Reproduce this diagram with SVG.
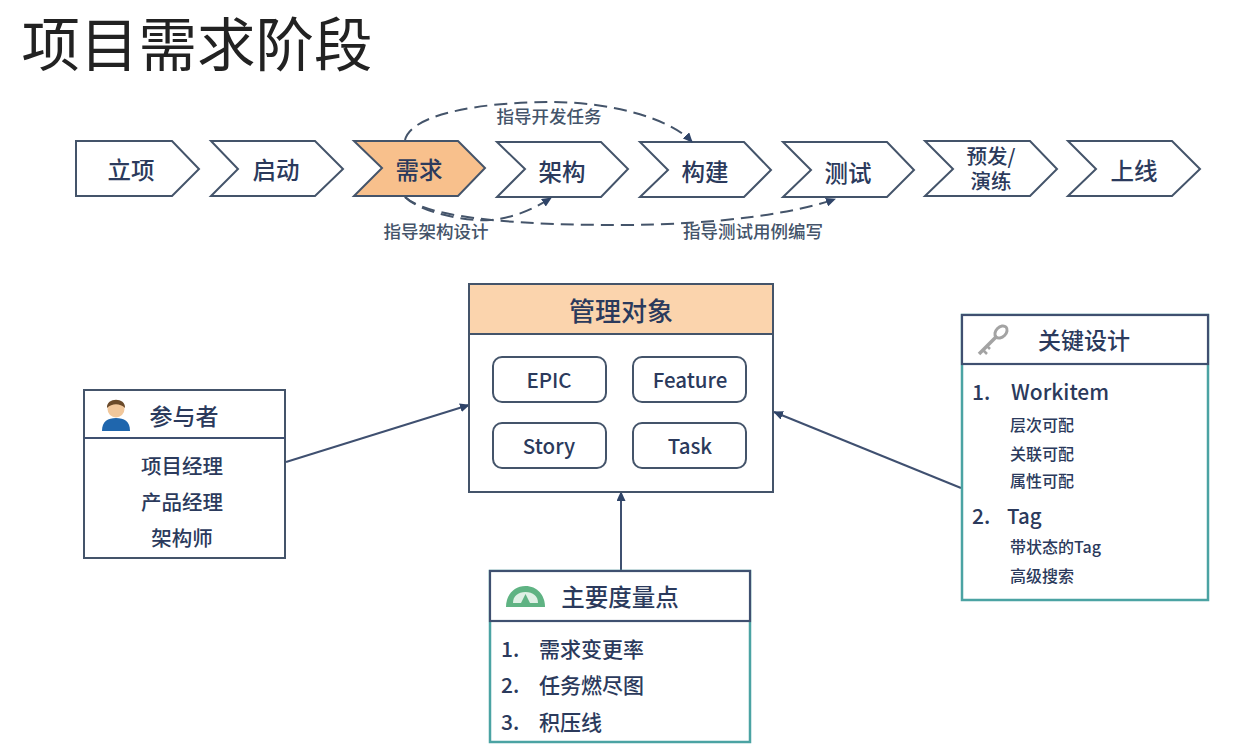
<svg xmlns="http://www.w3.org/2000/svg" width="1233" height="754" viewBox="0 0 1233 754">
<style>
text{font-family:"Noto Sans CJK SC","Noto Sans",sans-serif;fill:#2b3a5c;text-anchor:middle;font-weight:500}
.l{text-anchor:start}
.chev{fill:#fff;stroke:#44546a;stroke-width:2}
.box{fill:#fff;stroke:#44546a;stroke-width:2}
.teal{fill:#fff;stroke:#4ba3a3;stroke-width:2.5}
.head{fill:#fff;stroke:#3f5070;stroke-width:2.2}
.pill{fill:#fff;stroke:#44546a;stroke-width:2}
.c{fill:none;stroke:#3f5070;stroke-width:2}
.d{fill:none;stroke:#44546a;stroke-width:2;stroke-dasharray:13 7}
.t{font-size:23.5px}.s{font-size:20.5px}.b{font-size:21px}.xs{font-size:16px}.cap{font-size:17.5px;fill:#44546a}
</style>
<defs>
<marker id="a" markerWidth="10" markerHeight="9" refX="9" refY="4.5" orient="auto" markerUnits="userSpaceOnUse"><path d="M0 0L10 4.5L0 9Z" fill="#2f4468"/></marker>
</defs>
<rect width="1233" height="754" fill="#fff"/>
<text id="title" x="197" y="66" font-size="58.5" style="fill:#222;font-weight:400">项目需求阶段</text>

<g id="n-lixiang"><path class="chev" d="M76 141H172L199 169L172 196H76Z"/><text class="t" x="131" y="179">立项</text></g>
<g id="n-qidong"><path class="chev" d="M211 141H315L343 169L315 196H211L238 169Z"/><text class="t" x="276" y="179">启动</text></g>
<g id="n-xuqiu"><path d="M354 141H458L485 168L458 196H354L382 168Z" fill="#f8c08c" stroke="#44546a" stroke-width="2"/><text class="t" x="419" y="179">需求</text></g>
<g id="n-jiagou"><path class="chev" d="M497 142H601L628 169L601 197H497L525 169Z"/><text class="t" x="562" y="181">架构</text></g>
<g id="n-goujian"><path class="chev" d="M640 142H744L771 170L744 197H640L668 170Z"/><text class="t" x="705" y="181">构建</text></g>
<g id="n-ceshi"><path class="chev" d="M783 142H887L914 170L887 197H783L811 170Z"/><text class="t" x="848" y="182">测试</text></g>
<g id="n-yufa"><path class="chev" d="M925 141H1030L1057 169L1030 196H925L953 169Z"/><text class="s" x="991" y="164"><tspan x="991">预发/</tspan><tspan x="991" dy="25">演练</tspan></text></g>
<g id="n-shangxian"><path class="chev" d="M1068 141H1172L1200 169L1172 196H1068L1096 169Z"/><text class="t" x="1134" y="180">上线</text></g>

<g id="connectors">
<path class="d" marker-end="url(#a)" d="M405 140C412 112 490 102 550 102C610 102 670 118 692 142"/>
<path class="d" marker-end="url(#a)" d="M405 197C420 212 465 222 490 220C515 218 535 208 551 198"/>
<path class="d" marker-end="url(#a)" d="M405 197C430 220 530 225 620 225C720 225 800 212 835 199"/>
<path class="c" marker-end="url(#a)" d="M286 462L469 405"/>
<path class="c" marker-end="url(#a)" d="M961 488L774 412"/>
<path class="c" marker-end="url(#a)" d="M621 571V492"/>
</g>
<text class="cap" x="436" y="238">指导架构设计</text>
<text class="cap" x="549" y="123">指导开发任务</text>
<text class="cap" x="753" y="238">指导测试用例编写</text>

<g id="n-objects">
<rect class="box" x="469" y="284" width="304" height="208"/>
<rect x="469" y="284" width="304" height="50" fill="#fbd4ad" stroke="#44546a" stroke-width="2"/>
<text x="621" y="321" font-size="26">管理对象</text>
<rect class="pill" x="493" y="357" width="113" height="45" rx="9"/><text class="s" x="549" y="388">EPIC</text>
<rect class="pill" x="633" y="357" width="113" height="45" rx="9"/><text class="s" x="690" y="388">Feature</text>
<rect class="pill" x="493" y="423" width="113" height="45" rx="9"/><text class="s" x="549" y="454">Story</text>
<rect class="pill" x="633" y="423" width="113" height="45" rx="9"/><text class="s" x="690" y="454">Task</text>
</g>

<g id="n-participants">
<rect class="box" x="84" y="390" width="201" height="168"/>
<path class="c" d="M84 438H285"/>
<path d="M102 431C102 421 108 418 116 418C124 418 130 421 130 431Z" fill="#1f66ad"/>
<circle cx="116" cy="409" r="8.5" fill="#f1c79b"/>
<path d="M107 408C106 397 126 397 125 408C120 403 112 403 107 408Z" fill="#6a4a2a"/>
<text x="184" y="425" font-size="23">参与者</text>
<text class="s" x="182" y="474">项目经理</text>
<text class="s" x="182" y="510">产品经理</text>
<text class="s" x="182" y="546">架构师</text>
</g>

<g id="n-metrics">
<rect class="teal" x="490" y="571" width="260" height="171"/>
<rect class="head" x="490" y="571" width="260" height="50"/>
<path d="M506 607C506 595 514 586 525.500 586C537 586 545 595 545 607Z" fill="#5fb383"/>
<path d="M513 603C513 596 518 592 525.500 592C533 592 538 596 538 603Z" fill="#dff0e5"/>
<path d="M521 603L525.500 594L530 603Z" fill="#5fb383"/>
<text class="t" x="620" y="606">主要度量点</text>
<text class="b l" x="501" y="657">1.</text><text class="b l" x="539" y="657">需求变更率</text>
<text class="b l" x="501" y="693">2.</text><text class="b l" x="539" y="693">任务燃尽图</text>
<text class="b l" x="501" y="730">3.</text><text class="b l" x="539" y="730">积压线</text>
</g>

<g id="n-design">
<rect class="teal" x="962" y="315" width="246" height="285"/>
<rect class="head" x="962" y="315" width="246" height="49"/>
<path d="M979 354L997 336" stroke="#a3a3a3" stroke-width="3.500" fill="none"/>
<path d="M983 350L987 354M987 346L990 349" stroke="#a3a3a3" stroke-width="2.500" fill="none"/>
<ellipse cx="1001" cy="332" rx="5" ry="7" transform="rotate(45 1001 332)" fill="none" stroke="#a3a3a3" stroke-width="3"/>
<text x="1084" y="349" font-size="23">关键设计</text>
<text class="b l" x="972" y="400">1.</text><text class="b l" x="1011" y="400">Workitem</text>
<text class="xs l" x="1010" y="431">层次可配</text>
<text class="xs l" x="1010" y="460">关联可配</text>
<text class="xs l" x="1010" y="487">属性可配</text>
<text class="b l" x="972" y="524">2.</text><text class="s l" x="1007" y="524">Tag</text>
<text class="xs l" x="1010" y="553">带状态的Tag</text>
<text class="xs l" x="1010" y="582">高级搜索</text>
</g>
</svg>
